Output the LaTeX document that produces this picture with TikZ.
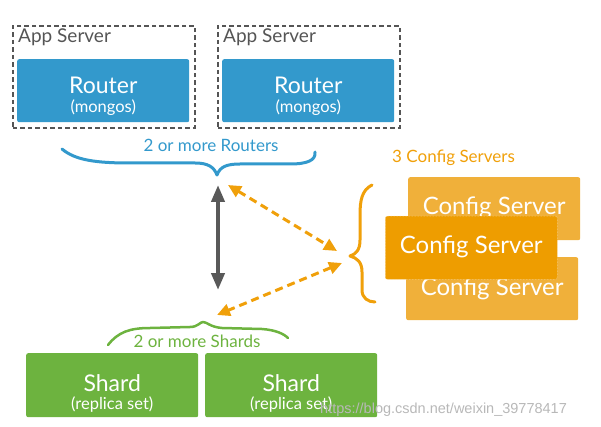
\documentclass[tikz,border=0pt]{standalone}
\usepackage{fontspec}
\setmainfont{Lato}
\newfontfamily\wmfont{Liberation Sans}
\usetikzlibrary{arrows.meta,calc}
\definecolor{routerblue}{HTML}{3399CC}
\definecolor{shardgreen}{HTML}{6DB33F}
\definecolor{cfgback}{HTML}{F0B03A}
\definecolor{cfgfront}{HTML}{EE9D00}
\definecolor{arrgray}{HTML}{595959}
\definecolor{dasharr}{HTML}{F0A00A}
\definecolor{appgray}{HTML}{555555}
\begin{document}
\begin{tikzpicture}[x=1pt,y=-1pt,
  box/.style={anchor=north west,minimum width=172pt,minimum height=63pt,inner sep=0pt,rounded corners=2pt},
  appbox/.style={anchor=north west,draw=appgray,dash pattern=on 4.5pt off 3pt,line width=1.7pt,minimum width=182pt,minimum height=102pt,inner sep=0pt},
  bigtxt/.style={anchor=base,text=white,font=\fontsize{23}{25}\selectfont,inner sep=0pt},
  smalltxt/.style={anchor=base,text=white,font=\fontsize{16.5}{18}\selectfont,inner sep=0pt},
  cfgtxt/.style={anchor=base,text=white,font=\fontsize{24}{26}\selectfont,inner sep=0pt},
  lbl/.style={anchor=base,inner sep=0pt,font=\fontsize{17}{19}\selectfont},
  brace/.style={line width=3pt,line cap=round,line join=round},
  dasharrow/.style={draw=dasharr,line width=3pt,dash pattern=on 8pt off 5pt,{Triangle[length=13pt,width=12pt]}-{Triangle[length=13pt,width=12pt]},shorten <=0pt,shorten >=0pt},
]
\useasboundingbox (0,0) rectangle (601,427);

% App servers and routers
\node[appbox] (app1) at (12,25) {};
\node[appbox] (app2) at (217,25) {};
\node[lbl,anchor=base west,text=appgray,font=\fontsize{19}{21}\selectfont] (app1l) at (18,43) {App Server};
\node[lbl,anchor=base west,text=appgray,font=\fontsize{19}{21}\selectfont] (app2l) at (223,43) {App Server};
\node[box,fill=routerblue] (r1) at (17,59) {};
\node[box,fill=routerblue] (r2) at (222,59) {};
\node[bigtxt] (r1t) at ($(r1.north)+(0,35)$) {Router};
\node[smalltxt] (r1s) at ($(r1.north)+(0,54)$) {(mongos)};
\node[bigtxt] (r2t) at ($(r2.north)+(0,35)$) {Router};
\node[smalltxt] (r2s) at ($(r2.north)+(0,54)$) {(mongos)};

% router brace
\node[lbl,text=routerblue] (rl) at (211,152) {2 or more Routers};
\coordinate (rbL) at (62,149);
\coordinate (rbT) at (217,175);
\coordinate (rbR) at (315,152);
\draw[brace,routerblue] (rbL) .. controls (75,160) and (95,163) .. (130,163)
  -- (195,163) .. controls (208,163) and (214,167) .. (rbT)
  .. controls (220,167) and (226,164) .. (240,164) -- (290,164)
  .. controls (308,164) and (316,160) .. (rbR);

% config servers
\node[lbl,anchor=base west,text=dasharr] (cl) at (392,163) {3 Config Servers};
\node[box,fill=cfgback] (c1) at (408,177) {};
\node[cfgtxt] (c1t) at ($(c1.north)+(0,38)$) {Config Server};
\node[box,fill=cfgback] (c3) at (406,257) {};
\node[cfgtxt] (c3t) at ($(c3.north)+(0,38)$) {Config Server};
\node[box,fill=cfgfront,draw=cfgback!50!white,densely dotted,line width=0.5pt] (c2) at (385,216) {};
\node[cfgtxt] (c2t) at ($(c2.north)+(0,38)$) {Config Server};

% config brace
\coordinate (cbT) at (372,185);
\coordinate (cbM) at (350,256);
\coordinate (cbB) at (375,302);
\draw[brace,dasharr] (cbT) .. controls (362,190) and (360,200) .. (360,215)
  -- (360,240) .. controls (360,250) and (356,254) .. (cbM)
  .. controls (357,258) and (362,262) .. (362,272) -- (362,290)
  .. controls (362,298) and (368,302) .. (cbB);

% shards
\node[box,fill=shardgreen,minimum height=64pt] (s1) at (26,353) {};
\node[box,fill=shardgreen,minimum height=64pt] (s2) at (205,353) {};
\node[bigtxt] (s1t) at ($(s1.north)+(0,38)$) {Shard};
\node[smalltxt] (s1s) at ($(s1.north)+(0,56)$) {(replica set)};
\node[bigtxt] (s2t) at ($(s2.north)+(0,38)$) {Shard};
\node[smalltxt] (s2s) at ($(s2.north)+(0,56)$) {(replica set)};
\node[lbl,text=shardgreen] (sl) at (197,347) {2 or more Shards};
\coordinate (sbL) at (108,345);
\coordinate (sbT) at (203,322);
\coordinate (sbR) at (288,338);
\draw[brace,shardgreen,line width=2.5pt] (sbL) .. controls (118,332) and (130,328) .. (150,328)
  -- (190,327) .. controls (198,327) and (200,322) .. (sbT)
  .. controls (207,322) and (210,327) .. (222,328) -- (262,329)
  .. controls (276,330) and (284,334) .. (sbR);

% arrows
\coordinate (gT) at (218,185);
\coordinate (gB) at (218,290);
\draw[arrgray,line width=4pt,{Triangle[length=17pt,width=13pt]}-{Triangle[length=17pt,width=13pt]}] (gT) -- (gB);
\coordinate (o1a) at (228,185);
\coordinate (o1b) at (337,251);
\coordinate (o2a) at (342,263);
\coordinate (o2b) at (217,315);
\draw[dasharrow] (o1a) -- (o1b);
\draw[dasharrow] (o2a) -- (o2b);

% watermark
\node[anchor=base west,inner sep=0pt,text=black!28,font=\wmfont\fontsize{14.5}{16}\selectfont] (wm) at (320,413) {https://blog.csdn.net/weixin\_39778417};
\end{tikzpicture}
\end{document}
